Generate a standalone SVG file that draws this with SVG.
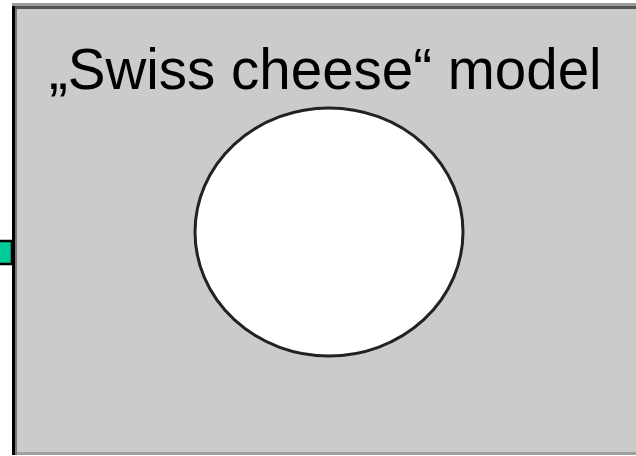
<svg xmlns="http://www.w3.org/2000/svg" width="636" height="456" viewBox="0 0 636 456">
<style>
.title{font-family:"Liberation Sans",Arial,sans-serif;font-size:56.5px;fill:#000}
</style>
<rect width="636" height="456" fill="#fff"/>
<g id="panel">
<rect x="12" y="3" width="630" height="451" fill="#cbcbcb"/>
<rect x="12" y="3" width="630" height="3" fill="#9a9a9a"/>
<rect x="12" y="6" width="630" height="3" fill="#555"/>
<rect x="12" y="452" width="630" height="3" fill="#a0a0a0"/>
<rect x="12" y="6" width="3" height="449" fill="#000"/>
<rect x="15" y="9" width="2" height="446" fill="#777"/>
</g>
<g id="connector">
<rect x="-2" y="241" width="14" height="23" fill="#00cc99" stroke="#000" stroke-width="2.5"/>
</g>
<g id="hole">
<ellipse cx="329" cy="232" rx="134" ry="124" fill="#fff" stroke="#222" stroke-width="3"/>
</g>
<g id="label">
<text class="title" x="49" y="89">„Swiss cheese“ model</text>
</g>
</svg>
